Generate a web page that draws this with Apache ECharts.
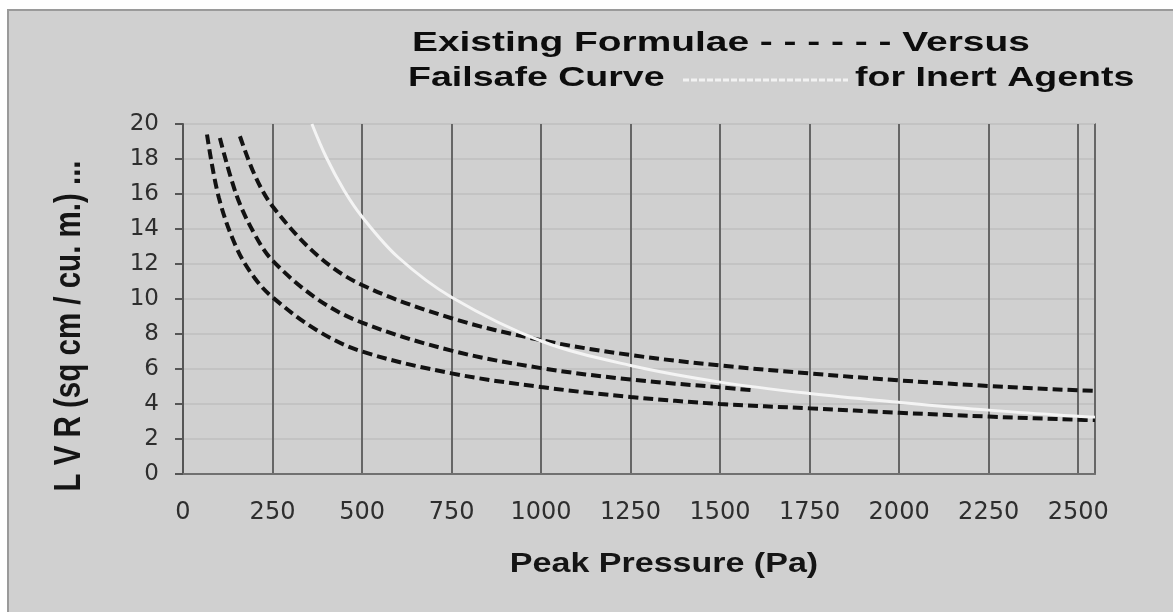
<!DOCTYPE html>
<html>
<head>
<meta charset="utf-8">
<title>Existing Formulae Versus Failsafe Curve</title>
<script src="https://cdn.jsdelivr.net/npm/echarts@6/dist/echarts.min.js"></script>
<style>
  html, body { margin: 0; padding: 0; background: #fff; }
  #chart { width: 1173px; height: 612px; }
</style>
</head>
<body>
<div id="chart"></div>
<script>
// existing formulae (three dashed curves) - pressure in Pa, LVR in sq cm / cu. m.
var lowP   = [67, 100, 150, 200, 250, 375, 500, 750, 1000, 1250, 1500, 1750, 2000, 2250, 2500, 2547];
var lowLVR = [19.4, 15.8, 12.9, 11.2, 10.1, 8.2, 7.0, 5.75, 4.97, 4.4, 4.0, 3.75, 3.5, 3.28, 3.1, 3.08];

var midP   = [103, 150, 200, 250, 375, 500, 750, 1000, 1250, 1500, 1593];
var midLVR = [19.2, 15.9, 13.7, 12.2, 10.0, 8.65, 7.05, 6.05, 5.4, 4.95, 4.78];

var topP   = [159, 200, 250, 375, 500, 750, 1000, 1250, 1500, 1750, 2000, 2250, 2500, 2547];
var topLVR = [19.3, 17.1, 15.3, 12.5, 10.8, 8.9, 7.65, 6.8, 6.2, 5.75, 5.35, 5.03, 4.78, 4.75];

// failsafe curve for inert agents (white line)
var safeP   = [360, 400, 450, 500, 600, 750, 1000, 1250, 1500, 1750, 2000, 2250, 2500, 2547];
var safeLVR = [20, 18.1, 16.2, 14.7, 12.4, 10.1, 7.6, 6.2, 5.25, 4.6, 4.1, 3.65, 3.3, 3.25];

function pairs(xs, ys) {
    var out = [];
    for (var i = 0; i < xs.length; i++) out.push([xs[i], ys[i]]);
    return out;
}

var myChart = echarts.init(document.getElementById('chart'));

var dashed = { color: '#121212', width: 4, type: [10, 5] };
var titleFont = 'bold 27px "Liberation Sans", Arial, sans-serif';

var option = {
    backgroundColor: '#d0d0d0',
    animation: false,
    grid: {
        left: 183,
        right: 78,
        top: 124,
        bottom: 138,
        show: true,
        borderColor: '#8a8a8a',
        borderWidth: 2
    },
    xAxis: {
        type: 'value',
        min: 0,
        max: 2547,
        interval: 250,
        axisLine: { show: true, lineStyle: { color: '#707070', width: 2 } },
        axisTick: { show: false },
        axisLabel: {
            margin: 27,
            showMaxLabel: false,
            color: '#2e2e2e',
            fontFamily: 'DejaVu Sans',
            fontSize: 24,
            formatter: function (v) { return String(v); }
        },
        splitLine: { show: true, lineStyle: { color: '#666', width: 2 } }
    },
    yAxis: {
        type: 'value',
        min: 0,
        max: 20,
        interval: 2,
        axisLine: { show: true, lineStyle: { color: '#555', width: 2 } },
        axisTick: { show: true, inside: false, length: 8, lineStyle: { color: '#555', width: 2 } },
        axisLabel: {
            margin: 24,
            color: '#2e2e2e',
            fontFamily: 'DejaVu Sans',
            fontSize: 23
        },
        splitLine: { show: true, lineStyle: { color: '#c3c3c3', width: 2 } }
    },
    graphic: [
        // white page outside the chart frame
        { type: 'rect', shape: { x: 0, y: 0, width: 1173, height: 9 }, style: { fill: '#fff' }, silent: true },
        { type: 'rect', shape: { x: 0, y: 0, width: 7, height: 612 }, style: { fill: '#fff' }, silent: true },
        { type: 'polyline', shape: { points: [[8, 612], [8, 10], [1173, 10]] },
          style: { stroke: '#9a9a9a', lineWidth: 2, fill: null }, silent: true },
        // title, with the legend samples written into it
        { type: 'text', position: [412, 44], scaleX: 1.44,
          style: { text: 'Existing Formulae - - - - - - Versus', fill: '#0d0d0d', font: titleFont,
                   textAlign: 'left', textVerticalAlign: 'middle' } },
        { type: 'text', position: [408, 79], scaleX: 1.39,
          style: { text: 'Failsafe Curve', fill: '#0d0d0d', font: titleFont,
                   textAlign: 'left', textVerticalAlign: 'middle' } },
        { type: 'line', shape: { x1: 683, y1: 80, x2: 848, y2: 80 },
          style: { stroke: '#f2f2f2', lineWidth: 3, lineDash: [6, 2] }, silent: true },
        { type: 'text', position: [855, 79], scaleX: 1.39,
          style: { text: 'for Inert Agents', fill: '#0d0d0d', font: titleFont,
                   textAlign: 'left', textVerticalAlign: 'middle' } },
        // axis names
        { type: 'text', position: [664, 565], scaleX: 1.26,
          style: { text: 'Peak Pressure (Pa)', fill: '#151515', font: titleFont,
                   textAlign: 'center', textVerticalAlign: 'middle' } },
        { type: 'text', position: [70, 326], rotation: Math.PI / 2, scaleX: 1.18, scaleY: 1.5,
          style: { text: 'L V R (sq cm / cu. m.) ...', fill: '#151515',
                   font: 'bold 25px "Liberation Sans", Arial, sans-serif',
                   textAlign: 'center', textVerticalAlign: 'middle' } }
    ],
    series: [
        { name: 'Existing 1', type: 'line', data: pairs(lowP, lowLVR), smooth: 0.35,
          showSymbol: false, lineStyle: dashed, z: 3 },
        { name: 'Existing 2', type: 'line', data: pairs(midP, midLVR), smooth: 0.35,
          showSymbol: false, lineStyle: dashed, z: 3 },
        { name: 'Existing 3', type: 'line', data: pairs(topP, topLVR), smooth: 0.35,
          showSymbol: false, lineStyle: dashed, z: 3 },
        { name: 'Failsafe', type: 'line', data: pairs(safeP, safeLVR), smooth: 0.35,
          showSymbol: false, lineStyle: { color: '#f4f4f4', width: 3 }, z: 4 }
    ]
};
myChart.setOption(option);
</script>
</body>
</html>
